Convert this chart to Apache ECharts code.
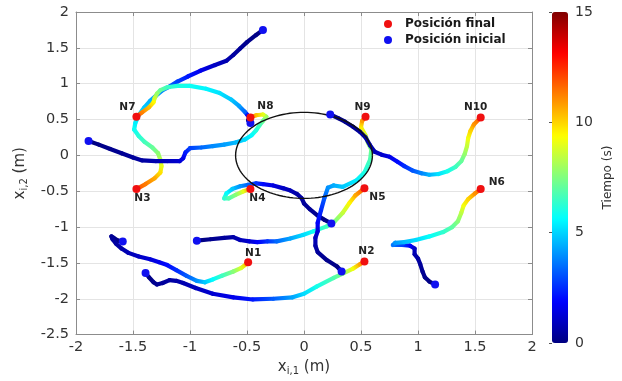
<!DOCTYPE html>
<html><head><meta charset="utf-8">
<script src="https://cdn.jsdelivr.net/npm/echarts/dist/echarts.min.js"></script>
<style>html,body{margin:0;padding:0;background:#fff}#c{width:622px;height:381px}</style>
</head><body><div id="c"></div>
<script>
// Trajectories: [x_i1, x_i2, time(s)] ; named by their final node
const pathN1 = [[-1.59,-1.20,0],[-1.63,-1.19,0.1],[-1.67,-1.15,0.2],[-1.69,-1.13,0.3],[-1.68,-1.17,0.4],[-1.65,-1.23,0.5],[-1.60,-1.30,0.6],[-1.54,-1.36,0.8],[-1.45,-1.41,1.0],[-1.35,-1.45,1.3],[-1.27,-1.49,1.6],[-1.20,-1.53,2.0],[-1.12,-1.60,2.5],[-1.03,-1.68,3.2],[-0.94,-1.75,4.0],[-0.87,-1.77,4.8],[-0.80,-1.73,5.6],[-0.72,-1.68,6.5],[-0.62,-1.62,7.6],[-0.55,-1.57,8.8],[-0.51,-1.52,10.2],[-0.49,-1.49,11.8]];
const pathN2 = [[-1.39,-1.64,0],[-1.36,-1.70,0.1],[-1.32,-1.77,0.2],[-1.29,-1.80,0.3],[-1.24,-1.78,0.4],[-1.18,-1.74,0.5],[-1.12,-1.75,0.6],[-1.06,-1.78,0.7],[-0.95,-1.85,0.9],[-0.80,-1.93,1.2],[-0.62,-1.98,1.6],[-0.45,-2.01,2.2],[-0.27,-2.00,3.2],[-0.10,-1.98,4.3],[0.00,-1.93,5.1],[0.11,-1.83,5.9],[0.26,-1.71,6.8],[0.34,-1.65,7.6],[0.43,-1.58,9.2],[0.49,-1.52,10.7],[0.53,-1.48,12.0]];
const pathN3 = [[-0.36,1.75,0],[-0.42,1.68,0.1],[-0.50,1.58,0.2],[-0.56,1.49,0.35],[-0.62,1.40,0.5],[-0.68,1.32,0.7],[-0.78,1.26,1.0],[-0.91,1.18,1.6],[-1.02,1.10,2.2],[-1.11,1.03,2.8],[-1.18,0.96,3.3],[-1.24,0.91,3.8],[-1.30,0.83,4.2],[-1.35,0.76,4.5],[-1.40,0.67,4.8],[-1.45,0.56,5.1],[-1.48,0.45,5.4],[-1.49,0.36,5.8],[-1.45,0.27,6.2],[-1.40,0.19,6.6],[-1.33,0.11,7.1],[-1.28,0.03,7.7],[-1.26,-0.06,8.3],[-1.25,-0.15,9.0],[-1.26,-0.24,9.8],[-1.31,-0.32,10.6],[-1.39,-0.40,11.3],[-1.47,-0.47,12.0]];
const pathN4 = [[0.24,-0.95,0],[0.18,-0.90,0.1],[0.12,-0.84,0.2],[0.05,-0.75,0.3],[0.00,-0.67,0.4],[-0.02,-0.60,0.5],[-0.06,-0.54,0.6],[-0.12,-0.49,0.8],[-0.18,-0.46,1.0],[-0.27,-0.42,1.4],[-0.36,-0.40,2.0],[-0.42,-0.39,2.6],[-0.49,-0.41,3.3],[-0.56,-0.43,4.0],[-0.63,-0.47,4.8],[-0.68,-0.53,5.6],[-0.70,-0.60,6.3],[-0.66,-0.60,6.8],[-0.60,-0.55,7.6],[-0.53,-0.50,9.0],[-0.47,-0.47,11.5]];
const pathN5 = [[-0.94,-1.19,0],[-0.82,-1.17,0.2],[-0.70,-1.15,0.4],[-0.62,-1.14,0.6],[-0.56,-1.18,0.8],[-0.48,-1.20,1.2],[-0.41,-1.21,1.8],[-0.32,-1.20,2.6],[-0.24,-1.20,3.4],[-0.12,-1.16,4.3],[-0.01,-1.11,5.1],[0.08,-1.06,5.8],[0.20,-0.99,6.6],[0.27,-0.92,7.4],[0.34,-0.80,8.5],[0.40,-0.66,9.5],[0.45,-0.56,10.6],[0.53,-0.46,12.0]];
const pathN6 = [[1.15,-1.80,0],[1.10,-1.76,0.1],[1.06,-1.70,0.2],[1.04,-1.62,0.3],[1.02,-1.52,0.4],[1.00,-1.44,0.5],[0.97,-1.38,0.7],[0.97,-1.30,1.0],[0.93,-1.26,1.8],[0.86,-1.25,2.8],[0.78,-1.25,3.6],[0.80,-1.22,4.1],[0.88,-1.21,4.6],[0.98,-1.18,5.1],[1.10,-1.13,5.7],[1.22,-1.07,6.3],[1.30,-1.00,7.0],[1.35,-0.92,7.6],[1.38,-0.80,8.4],[1.40,-0.70,9.2],[1.44,-0.61,10.0],[1.50,-0.53,11.0],[1.55,-0.47,12.0]];
const pathN7 = [[-0.47,0.45,0],[-0.49,0.49,0.3],[-0.48,0.53,0.8],[-0.50,0.57,2.0],[-0.52,0.61,3.4],[-0.57,0.69,4.2],[-0.64,0.78,4.8],[-0.74,0.87,5.2],[-0.86,0.93,5.5],[-1.00,0.97,5.8],[-1.11,0.97,6.1],[-1.20,0.95,6.5],[-1.26,0.91,7.1],[-1.29,0.86,7.8],[-1.31,0.80,8.6],[-1.32,0.74,9.4],[-1.36,0.67,10.3],[-1.42,0.60,11.2],[-1.47,0.54,12.0]];
const pathN8 = [[-1.89,0.20,0],[-1.80,0.15,0.1],[-1.70,0.09,0.2],[-1.60,0.03,0.3],[-1.50,-0.03,0.4],[-1.42,-0.07,0.5],[-1.30,-0.08,0.7],[-1.20,-0.08,0.9],[-1.09,-0.08,1.2],[-1.06,-0.04,1.6],[-1.04,0.04,2.2],[-1.00,0.10,2.8],[-0.90,0.11,3.4],[-0.80,0.13,3.9],[-0.70,0.15,4.2],[-0.60,0.18,4.6],[-0.52,0.22,5.1],[-0.46,0.28,5.6],[-0.42,0.35,6.1],[-0.39,0.42,6.6],[-0.36,0.48,7.2],[-0.33,0.54,7.9],[-0.36,0.57,9.0],[-0.42,0.56,10.3],[-0.47,0.53,12.0]];
const pathN9 = [[0.33,-1.62,0],[0.29,-1.55,0.1],[0.20,-1.46,0.2],[0.12,-1.35,0.4],[0.10,-1.26,0.6],[0.10,-1.15,0.9],[0.12,-1.06,1.3],[0.12,-0.94,1.8],[0.15,-0.76,2.5],[0.18,-0.59,3.2],[0.21,-0.45,4.0],[0.26,-0.42,4.4],[0.34,-0.44,4.8],[0.46,-0.35,5.4],[0.53,-0.24,6.0],[0.58,-0.06,6.7],[0.59,0.08,7.3],[0.56,0.18,8.0],[0.54,0.28,8.7],[0.50,0.39,9.6],[0.51,0.48,10.8],[0.54,0.54,12.0]];
const pathN10 = [[0.23,0.57,0],[0.30,0.52,0.1],[0.36,0.47,0.2],[0.43,0.40,0.3],[0.49,0.33,0.4],[0.54,0.25,0.5],[0.58,0.14,0.6],[0.62,0.05,0.8],[0.68,0.01,1.1],[0.75,-0.02,1.5],[0.82,-0.09,2.0],[0.88,-0.15,2.5],[0.95,-0.21,3.1],[1.03,-0.25,3.8],[1.10,-0.27,4.5],[1.18,-0.26,5.2],[1.26,-0.22,5.9],[1.33,-0.16,6.5],[1.38,-0.08,7.1],[1.41,0.02,7.8],[1.43,0.13,8.5],[1.44,0.24,9.2],[1.46,0.34,10.0],[1.49,0.43,10.9],[1.55,0.53,12.0]];

const nodeLabels = ['N1','N2','N3','N4','N5','N6','N7','N8','N9','N10'];
const obstacle = [0, 0, 0.6];           // centre x, centre y, radius
const colorbarTicks = [0, 5, 10, 15];
const legendNames = ['Posición final', 'Posición inicial'];

const paths = [pathN1,pathN2,pathN3,pathN4,pathN5,pathN6,pathN7,pathN8,pathN9,pathN10];
// label offsets (pixels) relative to each final marker - styling only
const labelOffsets = [[5,-9],[2,-10],[6,9],[7,9],[13,9],[16,-7],[-9,-9],[15,-11],[-3,-9],[-5,-10]];

const FONT = 'DejaVu Sans';
const tMax = colorbarTicks[colorbarTicks.length-1];
function jet(t){
  const f = Math.max(0, Math.min(1, t / tMax));
  const c = v => Math.round(255 * Math.max(0, Math.min(1, v)));
  return 'rgb(' + c(1.5-Math.abs(4*f-3)) + ',' + c(1.5-Math.abs(4*f-2)) + ',' + c(1.5-Math.abs(4*f-1)) + ')';
}
const jetStops = [0,1,2,3,4,5,6,7,8].map(k => jet(k * tMax / 8));

function pathSeries(path, idx){
  return {
    type:'custom', name:'tray' + (idx+1), xAxisIndex:0, yAxisIndex:0, z:3, silent:true,
    data: path, encode:{x:0, y:1},
    renderItem: function(params, api){
      const i = params.dataIndex;
      if (i === 0) return null;
      const a = path[i-1], b = path[i];
      const p1 = api.coord([a[0], a[1]]), p2 = api.coord([b[0], b[1]]);
      return {type:'line', shape:{x1:p1[0], y1:p1[1], x2:p2[0], y2:p2[1]},
        style:{lineWidth:4.2, lineCap:'round',
          stroke:{type:'linear', x:p1[0], y:p1[1], x2:p2[0]+0.01, y2:p2[1]+0.01, global:true,
            colorStops:[{offset:0, color:jet(a[2])},{offset:1, color:jet(b[2])}]}}};
    }
  };
}

const series = paths.map(pathSeries);
series.push({
  type:'custom', name:'obstaculo', xAxisIndex:0, yAxisIndex:0, z:4, silent:true,
  data:[obstacle], encode:{x:0, y:1},
  renderItem: function(params, api){
    const cx = api.value(0), cy = api.value(1), r = api.value(2);
    const pts = [];
    for (let k = 0; k <= 120; k++){
      const a = k / 120 * Math.PI * 2;
      pts.push(api.coord([cx + r*Math.cos(a), cy + r*Math.sin(a)]));
    }
    return {type:'polyline', shape:{points:pts}, style:{fill:null, stroke:'#111', lineWidth:1.4}};
  }
});
series.push({
  type:'scatter', name:legendNames[1], xAxisIndex:0, yAxisIndex:0, z:5,
  symbol:'circle', symbolSize:8, itemStyle:{color:'#1010f0', opacity:1},
  data: paths.map(p => [p[0][0], p[0][1]])
});
series.push({
  type:'scatter', name:legendNames[0], xAxisIndex:0, yAxisIndex:0, z:6,
  symbol:'circle', symbolSize:8, itemStyle:{color:'#f01010', opacity:1},
  data: paths.map((p,i) => ({value:[p[p.length-1][0], p[p.length-1][1]], name:nodeLabels[i],
    label:{show:true, position:'inside', offset:labelOffsets[i], formatter:nodeLabels[i],
      color:'#222', fontFamily:FONT, fontWeight:'bold', fontSize:10.5}}))
});
series.push({type:'scatter', name:'cbar', xAxisIndex:1, yAxisIndex:1, data:[]});

const axisTxt = {fontFamily:FONT, fontSize:14.5, color:'#333'};
const option = {
  backgroundColor:'#fff',
  animation:false,
  grid:[
    {left:76, top:12, width:456, height:331, show:false},
    {left:552, top:12, width:16, height:331, show:false}
  ],
  xAxis:[
    {type:'value', gridIndex:0, min:-2, max:2, interval:0.5, position:'bottom',
      name:'{n|x}{s|i,1}{n| (m)}', nameLocation:'middle', nameGap:23,
      nameTextStyle:{rich:{n:{fontFamily:FONT, fontSize:15, color:'#333'}, s:{fontFamily:FONT, fontSize:10, color:'#333', padding:[8,0,0,0]}}},
      axisLine:{show:true, onZero:false, lineStyle:{color:'#8c8c8c'}},
      axisTick:{show:true, inside:true, length:4, lineStyle:{color:'#8c8c8c'}},
      axisLabel:Object.assign({margin:5}, axisTxt),
      splitLine:{show:true, lineStyle:{color:'#e4e4e4'}}},
    {type:'value', gridIndex:1, min:0, max:1, show:false},
    {type:'value', gridIndex:0, min:-2, max:2, interval:0.5, position:'top',
      axisLine:{show:true, onZero:false, lineStyle:{color:'#8c8c8c'}},
      axisTick:{show:true, inside:true, length:4, lineStyle:{color:'#8c8c8c'}},
      axisLabel:{show:false}, splitLine:{show:false}}
  ],
  yAxis:[
    {type:'value', gridIndex:0, min:-2.5, max:2, interval:0.5, position:'left',
      name:'{n|x}{s|i,2}{n| (m)}', nameLocation:'middle', nameGap:47, nameRotate:90,
      nameTextStyle:{rich:{n:{fontFamily:FONT, fontSize:15, color:'#333'}, s:{fontFamily:FONT, fontSize:10, color:'#333', padding:[8,0,0,0]}}},
      axisLine:{show:true, onZero:false, lineStyle:{color:'#8c8c8c'}},
      axisTick:{show:true, inside:true, length:4, lineStyle:{color:'#8c8c8c'}},
      axisLabel:Object.assign({margin:7}, axisTxt),
      splitLine:{show:true, lineStyle:{color:'#e4e4e4'}}},
    {type:'value', gridIndex:1, min:colorbarTicks[0], max:tMax, interval:colorbarTicks[1]-colorbarTicks[0], position:'right',
      name:'Tiempo (s)', nameLocation:'middle', nameGap:34, nameRotate:90,
      nameTextStyle:{fontFamily:FONT, fontSize:12, color:'#333'},
      axisLine:{show:false}, axisTick:{show:true, inside:true, length:3, lineStyle:{color:'#555'}},
      axisLabel:{margin:7, fontFamily:FONT, fontSize:14, color:'#333'},
      splitLine:{show:false}},
    {type:'value', gridIndex:0, min:-2.5, max:2, interval:0.5, position:'right',
      axisLine:{show:true, onZero:false, lineStyle:{color:'#8c8c8c'}},
      axisTick:{show:true, inside:true, length:4, lineStyle:{color:'#8c8c8c'}},
      axisLabel:{show:false}, splitLine:{show:false}}
  ],
  visualMap:{
    type:'continuous', min:colorbarTicks[0], max:tMax, orient:'vertical',
    left:552, top:12, itemWidth:16, itemHeight:331, padding:0,
    calculable:false, hoverLink:false, text:null, showLabel:false,
    seriesIndex:[series.length-1], dimension:1,
    inRange:{color:jetStops}
  },
  legend:{
    data:legendNames, orient:'vertical', left:379, top:13, itemWidth:24, itemHeight:8, itemGap:4,
    icon:'circle', selectedMode:false,
    textStyle:{fontFamily:FONT, fontWeight:'bold', fontSize:12, color:'#1a1a1a'}
  },
  series:series
};
const chart = echarts.init(document.getElementById('c'), null, {renderer:'canvas'});
chart.setOption(option);
</script>
</body></html>
